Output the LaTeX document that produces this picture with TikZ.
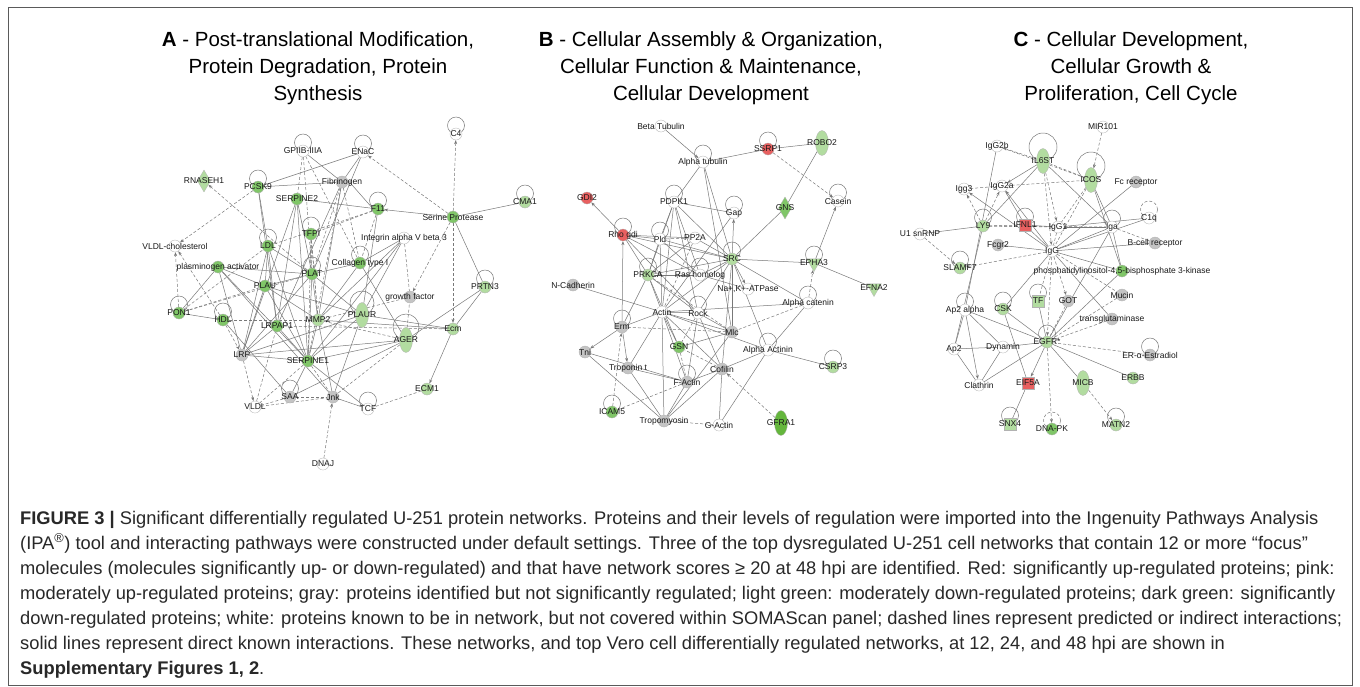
\documentclass[tikz,border=0pt]{standalone}
\usepackage{fontspec}
\setmainfont{Liberation Sans}
\usetikzlibrary{shapes.geometric,arrows.meta,backgrounds}
\definecolor{lgr}{RGB}{178,220,160}
\definecolor{mgr}{RGB}{128,198,104}
\definecolor{dgr}{RGB}{100,182,60}
\definecolor{nred}{RGB}{232,96,96}
\definecolor{ngray}{RGB}{196,196,196}
\definecolor{egray}{RGB}{120,120,120}
\definecolor{framec}{RGB}{90,90,90}
\definecolor{captc}{RGB}{40,40,40}
\newcommand\lfont{\fontsize{8.5}{9}\selectfont}
\newcommand\N[4]{\node[#1,label={[lab]center:{#4}}] (#2) at (#3) {};}
\newcommand\SL[2][8.5]{\draw[e] ([yshift=#1pt]#2.center) circle[radius=#1pt];}
\newcommand\SLd[2][8.5]{\draw[ed] ([yshift=#1pt]#2.center) circle[radius=#1pt];}
\begin{document}
\begin{tikzpicture}[x=1pt,y=-1pt,
 nd/.style={circle,minimum size=12pt,inner sep=0pt,draw=black!30,line width=0.3pt},
 wh/.style={nd,fill=white}, gy/.style={nd,fill=ngray}, lg/.style={nd,fill=lgr},
 mg/.style={nd,fill=mgr}, dg/.style={nd,fill=dgr}, rd/.style={nd,fill=nred},
 ell/.style={ellipse,minimum width=13pt,minimum height=25pt},
 dia/.style={diamond,minimum width=13pt,minimum height=22pt,aspect=0.6},
 sq/.style={rectangle,minimum size=12pt},
 tri/.style={regular polygon,regular polygon sides=3,shape border rotate=180,minimum size=17pt},
 lab/.style={font=\lfont,inner sep=0pt,text=black!90},
 e/.style={draw=egray,line width=0.5pt},
 ed/.style={e,dash pattern=on 3pt off 2pt},
 ar/.style={-{Stealth[length=4pt,width=3pt]}},
 ra/.style={{Stealth[length=4pt,width=3pt]}-},
 ttl/.style={font=\fontsize{20.5}{27}\selectfont,align=center,text=black},
 captxt/.style={font=\fontsize{18.3}{20}\selectfont,anchor=base west,inner sep=0pt,text=captc}
]
\useasboundingbox (0,0) rectangle (1360,686);
\draw[framec,line width=0.8pt] (8,7) rectangle (1352,685);

% titles
\node[ttl] (tA) at (318,68) {\textbf{A} - Post-translational Modification,\\Protein Degradation, Protein\\Synthesis};
\node[ttl] (tB) at (711,68) {\textbf{B} - Cellular Assembly \& Organization,\\Cellular Function \& Maintenance,\\Cellular Development};
\node[ttl] (tC) at (1131,68) {\textbf{C} - Cellular Development,\\Cellular Growth \&\\Proliferation, Cell Cycle};

% ---------- Panel A nodes
\N{lg,dia}{RNASEH1}{204,181}{RNASEH1}
\N{mg}{PCSK9}{258,187}{PCSK9}
\N{wh}{VLDLc}{175,246}{VLDL-cholesterol}
\N{mg}{PA}{218,267}{plasminogen activator}
\N{mg}{PON1}{179,313}{PON1}
\N{mg}{HDL}{223,320}{HDL}
\N{gy}{LRP}{242,355}{LRP}
\N{wh}{VLDL}{255,407}{VLDL}
\N{wh}{GPIIB}{303,151}{GPIIB-IIIA}
\N{wh}{ENaC}{363,152}{ENaC}
\N{gy}{Fib}{342,182}{Fibrinogen}
\N{mg}{SERPINE2}{297,199}{SERPINE2}
\N{mg}{F11}{378,209}{F11}
\N{mg}{SerP}{453,217}{Serine Protease}
\N{wh}{C4}{456,134}{C4}
\N{lg}{CMA1}{525,202}{CMA1}
\N{mg}{TFPI}{311,234}{TFPI}
\N{mg}{LDL}{268,246}{LDL}
\N{wh}{Integ}{404,238}{Integrin alpha V beta 3}
\N{mg}{Coll}{360,263}{Collagen type I}
\N{mg}{PLAT}{312,274}{PLAT}
\N{mg}{PLAU}{265,286}{PLAU}
\N{gy}{GF}{410,297}{growth factor}
\N{lg}{PRTN3}{485,287}{PRTN3}
\N{lg}{MMP2}{318,320}{MMP2}
\N{lg,ell}{PLAUR}{362,315}{PLAUR}
\N{mg}{LRPAP1}{277,326}{LRPAP1}
\N{lg,ell}{AGER}{406,340}{AGER}
\N{lg}{Ecm}{453,329}{Ecm}
\N{mg}{SERPINE1}{308,361}{SERPINE1}
\N{lg}{ECM1}{427,389}{ECM1}
\N{gy}{SAA}{290,397}{SAA}
\N{gy}{Jnk}{333,397}{Jnk}
\N{wh}{TCF}{368,409}{TCF}
\N{wh}{DNAJ}{323,464}{DNAJ}

% ---------- Panel B nodes
\N{wh}{BTub}{661,126}{Beta Tubulin}
\N{wh}{ATub}{703,162}{Alpha tubulin}
\N{rd}{SSRP1}{768,149}{SSRP1}
\N{lg,ell}{ROBO2}{822,143}{ROBO2}
\N{rd}{GDI2}{587,198}{GDI2}
\N{wh}{PDPK1}{674,202}{PDPK1}
\N{wh}{Gap}{734,213}{Gap}
\N{mg,dia}{GNS}{785,208}{GNS}
\N{wh}{Casein}{838,201}{Casein}
\N{rd}{Rhogdi}{623,235}{Rho gdi}
\N{wh}{Pld}{660,239}{Pld}
\N{wh}{PP2A}{695,238}{PP2A}
\N{lg}{SRC}{732,259}{SRC}
\N{lg}{PRKCA}{648,275}{PRKCA}
\N{wh}{Ras}{700,275}{Ras homolog}
\N{wh}{NaK}{748,289}{Na+,K+-ATPase}
\N{gy}{NCad}{573,285}{N-Cadherin}
\N{lg,tri}{EPHA3}{814,263}{EPHA3}
\N{lg,tri}{EFNA2}{874,288}{EFNA2}
\N{wh}{Actin}{662,312}{Actin}
\N{wh}{Rock}{698,313}{Rock}
\N{wh}{Acat}{808,303}{Alpha catenin}
\N{gy}{Erm}{622,327}{Erm}
\N{gy}{Mlc}{732,332}{Mlc}
\N{gy}{Tni}{585,352}{Tni}
\N{mg}{GSN}{679,347}{GSN}
\N{gy}{Tropt}{628,368}{Troponin t}
\N{gy}{FActin}{687,382}{F-Actin}
\N{wh}{AAct}{768,350}{Alpha Actinin}
\N{gy}{Cofilin}{722,369}{Cofilin}
\N{lg}{CSRP3}{833,367}{CSRP3}
\N{mg}{ICAM5}{612,412}{ICAM5}
\N{gy}{Tropo}{664,421}{Tropomyosin}
\N{wh}{GActin}{719,425}{G-Actin}
\N{dg,ell}{GFRA1}{781,423}{GFRA1}

% ---------- Panel C nodes
\N{wh}{MIR101}{1103,127}{MIR101}
\N{wh}{IgGtb}{997,146}{IgG2b}
\N{lg,ell}{IL6ST}{1043,161}{IL6ST}
\N{lg,ell}{ICOS}{1091,180}{ICOS}
\N{gy}{Fcrec}{1136,182}{Fc receptor}
\N{wh}{Iggt}{964,189}{Igg3}
\N{wh}{IgGta}{1002,186}{IgG2a}
\N{lg}{LY9}{983,226}{LY9}
\N{rd,sq}{IFNL1}{1025,225}{IFNL1}
\N{wh}{IgGo}{1058,227}{IgG1}
\N{wh}{Iga}{1112,227}{Iga}
\N{wh}{C1q}{1149,218}{C1q}
\N{wh}{U1}{920,234}{U1 snRNP}
\N{gy}{Bcell}{1155,243}{B-cell receptor}
\N{gy}{Fcgr2}{998,245}{Fcgr2}
\N{wh}{IgG}{1052,251}{IgG}
\N{lg}{SLAMF7}{960,268}{SLAMF7}
\N{mg}{PI3K}{1122,271}{phosphatidylinositol-4,5-bisphosphate 3-kinase}
\N{gy}{Mucin}{1122,295}{Mucin}
\N{lg,sq}{TF}{1038,301}{TF}
\N{gy}{GOT}{1068,301}{GOT}
\N{lg}{CSK}{1003,309}{CSK}
\N{wh}{Ap2a}{965,310}{Ap2 alpha}
\N{gy}{TGase}{1112,319}{transglutaminase}
\N{lg}{EGFR}{1047,342}{EGFR*}
\N{wh}{Ap2}{954,349}{Ap2}
\N{wh}{Dynamin}{1003,347}{Dynamin}
\N{gy}{ERE}{1150,355}{ER-α-Estradiol}
\N{lg}{ERBB}{1133,378}{ERBB}
\N{wh}{Clathrin}{979,385}{Clathrin}
\N{rd,sq}{EIF5A}{1028,383}{EIF5A}
\N{lg,ell}{MICB}{1083,383}{MICB}
\N{lg,sq}{SNX4}{1010,424}{SNX4}
\N{mg}{DNAPK}{1052,429}{DNA-PK}
\N{lg}{MATN2}{1116,425}{MATN2}

\begin{scope}[on background layer]
\fill[white] (0,0) rectangle (1360,686);
% ---------- Panel A edges
\foreach \a/\b in {PCSK9/Fib,PCSK9/ENaC,PCSK9/LDL,PCSK9/LRPAP1,GPIIB/Fib,SERPINE2/F11,SerP/CMA1,SerP/PRTN3,Fib/MMP2,Fib/LRPAP1,ENaC/PLAT,Integ/Coll,Integ/MMP2,Integ/PLAUR,Integ/SERPINE1,F11/PLAUR,PRTN3/Ecm,PRTN3/AGER,Ecm/PLAUR,Ecm/MMP2,PLAUR/PLAU,PLAUR/LRP,PLAUR/SERPINE1,PLAUR/PLAT,PLAUR/Jnk,PLAU/LDL,PLAU/PLAT,PLAU/SERPINE1,PLAU/LRP,PLAU/MMP2,PLAT/SERPINE1,PLAT/LRP,PLAT/MMP2,LDL/LRPAP1,LDL/LRP,LDL/SERPINE1,LDL/PLAT,LRPAP1/LRP,LRPAP1/SERPINE1,SERPINE1/SAA,SERPINE1/TCF,SERPINE1/LRP,MMP2/Jnk,MMP2/SERPINE1,MMP2/Coll,AGER/SERPINE1,AGER/SAA,AGER/LRP,AGER/Coll,TCF/Jnk,SAA/HDL,HDL/PON1,PON1/PA,PA/LRP,PA/SERPINE1,PA/PLAT,PA/PLAU,PA/Jnk,Coll/PLAT,SERPINE2/PLAT,SERPINE2/LRP,SERPINE2/SERPINE1,SERPINE2/LRPAP1,ENaC/Fib}
  \draw[e] (\a) -- (\b);
\foreach \a/\b in {PON1/PLAU,PON1/LDL,PON1/PLAT,HDL/MMP2,VLDL/SAA,VLDL/Jnk,VLDL/LRPAP1,SERPINE1/Jnk,SERPINE1/VLDL,MMP2/AGER,MMP2/TFPI,AGER/Jnk,AGER/GF,ECM1/TCF,SAA/Jnk,GPIIB/SERPINE2,GPIIB/PLAT,GPIIB/Coll,Fib/PLAT,Fib/Coll,Fib/SERPINE1,F11/Coll,F11/TFPI,F11/LDL,Integ/GF,GF/MMP2,TFPI/PLAT,TFPI/SERPINE1,TFPI/MMP2,Ecm/LRPAP1}
  \draw[ed] (\a) -- (\b);
\foreach \a/\b in {PCSK9/VLDLc,PON1/VLDLc,HDL/VLDLc,HDL/LRP,LRP/VLDL,DNAJ/Jnk,PLAT/RNASEH1,SerP/ENaC,SerP/C4,SerP/Ecm,SerP/GF}
  \draw[ed,ar] (\a) -- (\b);
\foreach \a/\b in {SerP/F11,Ecm/ECM1}
  \draw[e,ar] (\a) -- (\b);
\draw[e] ([yshift=1.5pt]Fib.east) -- ([yshift=1.5pt]F11.west);
\SL{PCSK9}\SL{PON1}\SL{HDL}\SL{GPIIB}\SL{ENaC}\SL{F11}\SL{C4}\SL{CMA1}\SL{TFPI}\SL{LDL}
\SL{Coll}\SL{PLAT}\SL{PRTN3}\SL{SAA}\SL{TCF}
\SL[12]{PLAUR}\SL[13]{AGER}

% ---------- Panel B edges
\foreach \a/\b in {ATub/SSRP1,ATub/PDPK1,ATub/SRC,ATub/Mlc,SSRP1/ROBO2,ROBO2/GNS,GNS/SRC,EPHA3/EFNA2,SRC/EPHA3,NCad/Actin,PDPK1/Gap,PDPK1/Pld,PDPK1/PRKCA,PDPK1/Actin,PDPK1/SRC,PDPK1/Ras,PDPK1/Rock,Rhogdi/Pld,Rhogdi/PP2A,Rhogdi/SRC,Rhogdi/PRKCA,Rhogdi/Ras,Rhogdi/Rock,Pld/PRKCA,Pld/SRC,Pld/Actin,Pld/Ras,PP2A/SRC,PP2A/PRKCA,SRC/PRKCA,SRC/Ras,SRC/Actin,SRC/Acat,SRC/Cofilin,SRC/Mlc,SRC/Rock,SRC/AAct,PRKCA/Ras,PRKCA/Actin,PRKCA/Erm,PRKCA/Rock,Actin/Erm,Actin/Rock,Actin/Mlc,Actin/Cofilin,Actin/Acat,Actin/AAct,Actin/FActin,Actin/GSN,Actin/Tropt,Actin/Tropo,Rock/Mlc,Rock/Cofilin,Acat/AAct,AAct/CSRP3,AAct/Cofilin,AAct/GActin,Cofilin/FActin,Cofilin/GActin,Cofilin/Tropo,Tropo/Tni,Tropo/Tropt,Tropo/FActin,Tropo/Mlc,Tni/FActin,GSN/Mlc,Tropt/FActin,Ras/NaK,Gap/Actin,PRKCA/GSN,Rock/FActin}
  \draw[e] (\a) -- (\b);
\foreach \a/\b in {Pld/PP2A,PP2A/Actin,Cofilin/GSN,Tropo/GActin,ICAM5/FActin,GSN/FActin,Rock/GSN,Mlc/Erm,PRKCA/Mlc,Acat/Mlc}
  \draw[ed] (\a) -- (\b);
\foreach \a/\b in {SSRP1/Casein,Acat/EPHA3,GFRA1/Cofilin,ICAM5/Erm}
  \draw[ed,ar] (\a) -- (\b);
\foreach \a/\b in {BTub/ATub,EPHA3/Casein,Erm/Rhogdi,SRC/NaK,Erm/Tni,Erm/Tropt,SRC/Gap}
  \draw[e,ar] (\a) -- (\b);
\draw[e,ar,ra] (GDI2) -- (Rhogdi);
\SL{ATub}\SL{SSRP1}\SL{PDPK1}\SL{Gap}\SL{Casein}\SL{Rhogdi}\SL{Pld}\SL{SRC}\SL{PRKCA}\SL{Ras}
\SL{EPHA3}\SL{Rock}\SL{Acat}\SL{Erm}\SL{FActin}\SL{AAct}\SL{CSRP3}\SL{ICAM5}

% ---------- Panel C edges
\foreach \a/\b in {IL6ST/Iga,IL6ST/LY9,ICOS/Iga,ICOS/PI3K,IgGtb/Ap2a,U1/LY9,IFNL1/IgGo,IFNL1/IgG,IFNL1/IgGta,IgGo/Iga,IgGo/C1q,IgG/Bcell,IgG/Fcrec,IgG/C1q,IgG/Iga,Fcgr2/IgG,IgG/PI3K,IgG/CSK,IgG/TGase,PI3K/EGFR,PI3K/Iga,TF/EGFR,CSK/EGFR,CSK/EIF5A,Ap2a/Ap2,Ap2a/Dynamin,Ap2a/EGFR,Ap2/Dynamin,Ap2/Clathrin,Dynamin/EGFR,Dynamin/Clathrin,Clathrin/EGFR,EGFR/ERBB,EGFR/MICB,EIF5A/SNX4,LY9/Ap2,Iga/EGFR}
  \draw[e] (\a) -- (\b);
\foreach \a/\b in {IgGtb/ICOS,IL6ST/ICOS,ICOS/IgGta,ICOS/IgGo,ICOS/IgG,Iggt/IgGta,LY9/IgGo,IgGo/IgG,Iga/Bcell,IgG/TF,IgG/Mucin,Mucin/EGFR,TGase/EGFR,GOT/EGFR,EGFR/ERE,LY9/IFNL1,LY9/Iga}
  \draw[ed] (\a) -- (\b);
\foreach \a/\b in {MIR101/ICOS,IL6ST/IgGtb,IL6ST/IgGo,IL6ST/IgG,LY9/Iggt,LY9/IgGta,U1/SLAMF7,IgG/SLAMF7,IgG/GOT,IgG/EGFR,EGFR/DNAPK,MICB/MATN2}
  \draw[ed,ar] (\a) -- (\b);
\foreach \a/\b in {IL6ST/IgGta,IgG/Iggt,IgG/IgGta,Ap2a/Clathrin,EGFR/EIF5A}
  \draw[e,ar] (\a) -- (\b);
\SL{LY9}\SL{IFNL1}\SL{Iga}\SLd{C1q}\SL{SLAMF7}\SL{TF}\SL{CSK}\SL{Ap2a}\SL{EGFR}\SL{ERE}
\SL{SNX4}\SLd{DNAPK}\SL{MATN2}
\SL[14]{IL6ST}\SL[14]{ICOS}
\end{scope}

% caption
\node[captxt] (c1) at (20,524) {\textbf{FIGURE 3 |} Significant differentially regulated U-251 protein networks. Proteins and their levels of regulation were imported into the Ingenuity Pathways Analysis};
\node[captxt] (c2) at (20,549) {(IPA\textsuperscript{®}) tool and interacting pathways were constructed under default settings. Three of the top dysregulated U-251 cell networks that contain 12 or more “focus”};
\node[captxt] (c3) at (20,574) {molecules (molecules significantly up- or down-regulated) and that have network scores ≥ 20 at 48 hpi are identified. Red: significantly up-regulated proteins; pink:};
\node[captxt] (c4) at (20,599) {moderately up-regulated proteins; gray: proteins identified but not significantly regulated; light green: moderately down-regulated proteins; dark green: significantly};
\node[captxt] (c5) at (20,624) {down-regulated proteins; white: proteins known to be in network, but not covered within SOMAScan panel; dashed lines represent predicted or indirect interactions;};
\node[captxt] (c6) at (20,649) {solid lines represent direct known interactions. These networks, and top Vero cell differentially regulated networks, at 12, 24, and 48 hpi are shown in};
\node[captxt] (c7) at (20,674) {\textbf{Supplementary Figures 1, 2}.};
\end{tikzpicture}
\end{document}
